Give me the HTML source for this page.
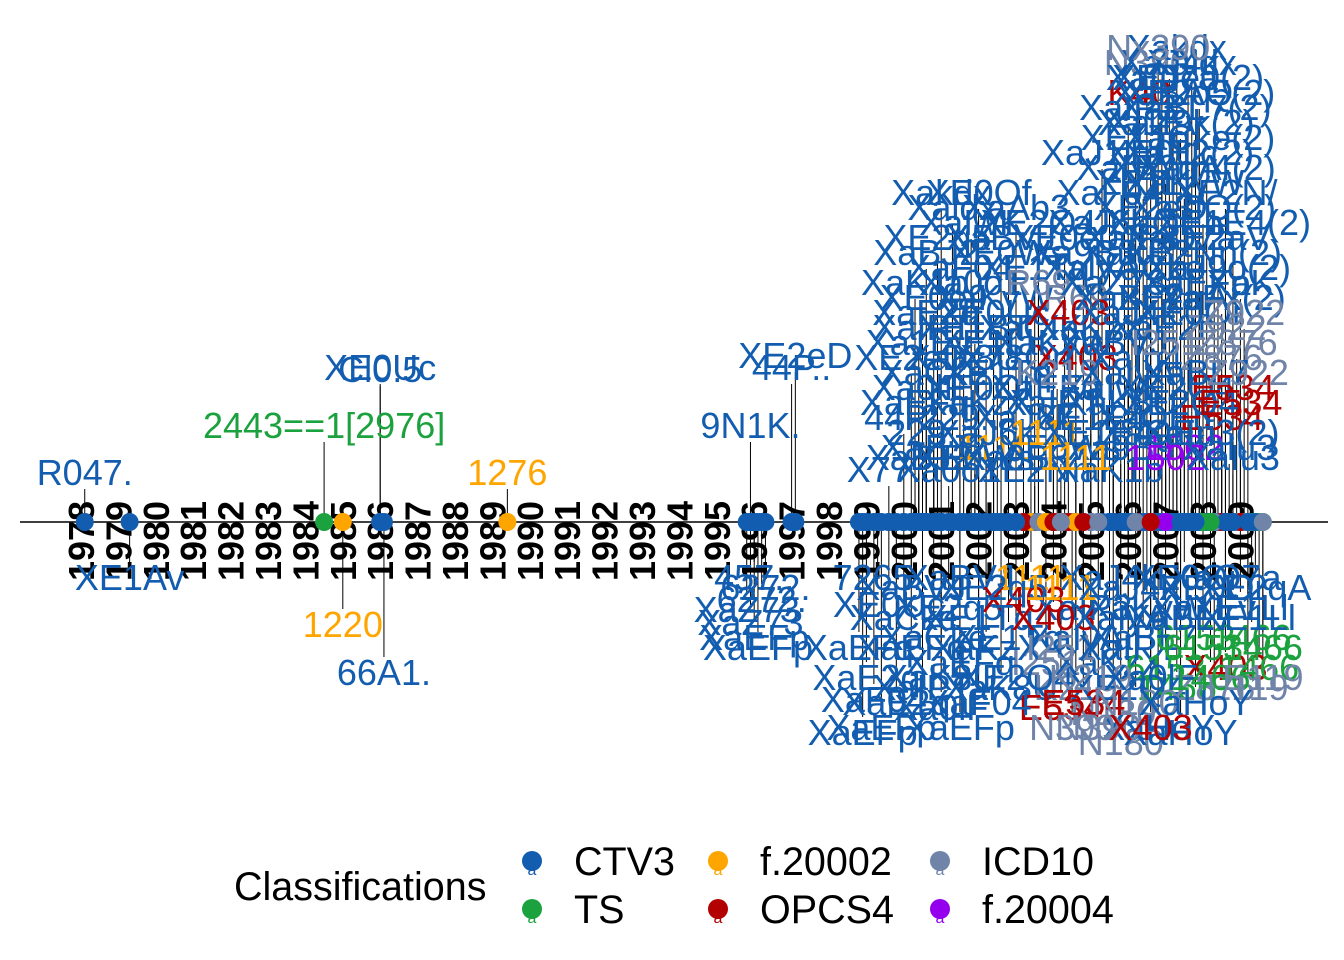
<!DOCTYPE html>
<html><head><meta charset="utf-8"><style>
html,body{margin:0;padding:0;background:#fff;}
svg{display:block;font-family:"Liberation Sans",sans-serif;}
</style></head><body>
<svg id="chart" width="1344" height="960" viewBox="0 0 1344 960" xmlns="http://www.w3.org/2000/svg">
<g id="leaders"></g>
<line x1="20" y1="522" x2="1328" y2="522" stroke="#000" stroke-width="1.6"/>
<g id="years"></g>
<g id="dots"></g>
<g id="labels"></g>
<g id="legend">
<text x="234" y="900" font-size="39.5">Classifications</text>
</g>
</svg>
<script>
const classNames = ['CTV3','TS','f.20002','OPCS4','ICD10','f.20004'];
const classColors = ['#135DB0','#1BA23E','#FFA500','#B30000','#6F84A8','#9400EE'];
const yearTicks = [];
for (let y = 1978; y <= 2009; y++) yearTicks.push(y);

// event dates (decimal years)
const dates = [
1978.1,1984.5,1986.0,1986.0,1989.4,1995.9,1997.1,1997.0,
2006.5,2007.1,2007.7, 2006.3,2007.2,2007.9, 2006.6,2007.4, 2005.3,2006.9,2007.6, 2006.4,2007.5,
2001.3,2003.0,2006.6,2008.0, 2000.9,2002.6,2004.3,2006.1,2007.4,2008.3, 2001.5,2003.5,2005.0,2006.6,2008.4,
2000.8,2002.4,2004.6,2006.0,2007.2,2008.5, 2000.5,2001.9,2003.4,2005.0,2006.8,2008.6,
2000.2,2001.6,2003.0,2004.6,2006.2,2008.5, 2000.4,2002.0,2003.8,2005.6,2007.3,2008.8,
2000.0,2001.5,2003.2,2005.0,2006.7,2008.5, 2000.8,2002.4,2004.2,2005.8,2007.5,2008.7, 1999.6,2001.2,2003.5,2005.5,
1979.3,1985.0,1986.1, 1996.0,1995.9,1996.1,1996.2, 1999.3,1999.6,1998.8,1999.0,1999.2,1998.9,
2001.5,2003.4,2005.5,2007.5,2008.6, 2001.2,2003.2,2004.8,2006.5,2008.0,2009.0,
2000.8,2002.8,2004.6,2006.4,2007.8,2009.3, 2001.5,2003.8,2005.5,2007.0,2008.6,2009.5,
2000.5,2002.6,2004.6,2006.0,2007.3,2009.2, 2001.0,2004.2,2005.6,2006.8,2008.3, 2004.5,2005.8,2007.4,
2007.3,2006.8, 2006.9,2007.6, 2006.0,2007.8, 2006.2,2007.9, 2005.9,2007.0,2008.1,
2001.0,2002.0,2005.5,2008.6, 2001.8,2003.6,2005.2,2007.0,2008.8, 2000.6,2002.8,2004.8,2006.0,2008.0,
2000.3,2001.8,2003.6,2005.6,2007.8,2009.0, 2000.6,2002.4,2004.4,2006.0,2007.6,2009.1,
2000.4,2002.2,2004.0,2005.6,2007.0,2008.9, 2000.8,2002.5,2004.1,2006.0,2007.8,2009.2,
2000.3,2002.0,2004.0,2005.8,2007.4,2009.0, 2000.6,2002.2,2003.8,2005.2,2006.8,2008.2,
2000.4,2001.9,2003.0,2004.6,2007.0,2008.8,
2000.2,2002.4,2004.2,2006.0,2008.2,2009.4, 2000.0,2002.0,2004.0,2005.8,2007.4,2009.2,
2000.2,2002.2,2004.2,2006.0,2008.0,2009.6, 2001.0,2003.0,2005.0,2006.6,2008.2,2009.6,
1999.8,2002.0,2004.8,2006.2,2007.8, 1999.4,2001.5,2005.2,2006.6,
1995.8,1996.3,1996.0
];
// classification index per event
const classIdx = [
0,1,0,0,2,0,0,0,
4,0,0, 3,0,0, 0,0, 0,0,0, 0,0,
0,0,0,0, 0,0,0,0,0,0, 0,0,0,0,0,
0,0,4,0,0,0, 0,0,0,0,0,4,
0,0,0,3,0,4, 0,0,0,0,0,3,
0,0,0,0,0,3, 0,2,0,0,5,0, 0,0,0,0,
0,2,0, 0,0,0,0, 0,0,0,0,0,0,
0,2,0,0,0, 0,3,0,0,0,0,
0,0,0,0,1,1, 0,4,0,1,3,1,
0,0,4,0,1,4, 0,3,4,0,4, 4,4,0,
0,4, 0,0, 0,0, 0,0, 0,0,0,
0,0,0,0, 0,0,0,0,0, 0,0,0,0,0,
0,0,4,0,0,0, 0,0,3,0,0,4,
0,0,0,0,4,4, 0,0,4,0,0,4,
0,0,0,0,0,3, 0,0,2,0,0,0,
0,0,0,2,5,0,
0,0,2,0,0,0, 0,0,3,0,0,0,
0,0,4,0,1,1, 0,0,4,0,1,4,
0,0,3,4,0, 0,0,4,3,
0,0,0
];
const codes = [
'R047.','2443==1[2976]','XE0Uc','Cl0.5','1276','9N1K.','XE2eD','44P..',
'N390','XaJ4k','Xaldx', 'K40','XaBAQ','XE2q5(2)', 'Xa1Ev','XaZ9k(2)', 'XaJ1Ln','XE0Uc','XaE2(2)', 'XE1Ll','XaKyW',
'Xaldx','XaAb3','XE2eD','Xa3fQ(2)', 'XE2q5','XaBVJ','XE0e0','XaIP3','XaQ7a','XE2aV', 'XaF04','XE1Tq','XaIyA','XaCke','XaJ9o(2)',
'XE0e9','XaKyW','R69','XaBL7','XE2qA','XaFx(2)', 'XaIPT','XE1BT','XaCIK','XaKzX','XaE2f','Z922',
'XE2eD','XaK8U','X78Qn','X403','XaIn4','Z876', 'Xa0lF','XE0Of','XaEFq','XaIwK','XE2Q4','E534',
'44P..','229..','XaJ6k','XE1E4','XaQEn','E534', 'XaBJ2','1111','XE0Ws','Xa9B3','1502','XaIu3', 'X77..','Xa0o1','XE2Nn','XaK1b',
'XE1Av','1220','66A1.', '457..','XaZ73','XaEFp','6272.', '7265.','XE0Uc','XaEFq','XaE2q','XaF04','XaEFp',
'XaBVJ','1111','XaJ4k','XE0Oi','XaQ7a', 'XE2q5','X403','XaIP3','XaKyW','Xa1Ev','XE1Ll',
'XaCke','XE1Tq','XaIyA','XaBL7','6153','1466', 'XaEFq','I251','XaKzX','6153','X403','1466',
'XaIPT','XaK8U','K219','XE2Q4','1466','E119', 'Xa0lF','E534','N180','XaHoY','Z876', 'N390','N180','XaHoY',
'Xakdx','Nx390', 'XaQ7a','XE0e0(2)', 'XaIP3','XaBL7(2)', 'XE1Tq','XaCke(2)', 'XaIyA','XE2qA','XaIn4(2)',
'Xakdx','XE0Of','XaF04','XE2N/', 'XaIwK','XE2Q4','XaJ6k','XaQEn','XE1E4(2)', 'XaBJ2','XE0Ws','Xa9B3','XaIu3','XE2Nn(2)',
'XaK1b','Xa0o1','R69','XaZ73','XaEFp','XaK', 'XaE2q','XE0Uc','X403','XaJ4k','XE0Oi','Z922',
'Xa1Ev','XE1Ll','XaKyW','XaBVJ','I251','Z876', 'XaCke','XE1Tq','K219','XaIyA','XaBL7','Z922',
'XaEFq','XaKzX','XaIPT','XaK8U','XE2Q4','E534', '229..','XaJ6k','1111','XE1E4','XaQEn','XaIu3(2)',
'XaBJ2','XE0Ws','Xa9B3','1111','1502','XaIu3',
'XaBVJ','XE2q5','1111','XaJ4k','XE0Oi','XE2qA', 'XaCke','XE1Tq','X403','XaIyA','XaBL7','XE1Ll',
'XaEFq','XaKzX','I251','XaIPT','6153','1466', 'XaK8U','XE2Q4','K219','Xa0lF','1466','E119',
'XaE2q','XaF04','E534','N180','XaHoY', 'XaEFp','XaEFp','N390','X403',
'XaZ73','6272.','XaEFp'
];
// layout: label baseline y for each event (not data)
const labelBaselines = [
485,438,380,382,485,438,368,380,
75,75,75, 105,105,105, 135,135, 165,165,165, 195,195,
220,220,220,220, 250,250,250,250,250,250, 280,280,280,280,280,
310,310,310,310,310,310, 340,340,340,340,340,340,
370,370,370,370,370,370, 400,400,400,400,400,400,
430,430,430,430,430,430, 460,460,460,460,460,460, 482,482,482,482,
590,637,685, 590,635,660,612, 590,617,660,690,712,745,
590,590,590,590,590, 620,612,620,620,620,620,
650,650,650,650,650,650, 675,675,675,680,680,680,
700,700,700,700,700,700, 720,720,725,740,700, 740,755,745,
60,60, 90,90, 120,120, 150,150, 180,180,180,
205,205,205,205, 235,235,235,235,235, 265,265,265,265,265,
295,295,295,295,295,295, 325,325,325,325,325,325,
355,355,355,355,355,355, 385,385,385,385,385,385,
415,415,415,415,415,415, 445,445,445,445,445,445,
470,470,470,470,470,470,
600,600,600,600,600,600, 630,630,630,630,630,630,
660,660,660,660,660,660, 690,690,690,690,690,690,
715,715,715,715,715, 740,740,740,740,
622,600,650
];

const NS = 'http://www.w3.org/2000/svg';
function xScale(yr){ return 81 + (yr - 1978) * 37.4; }
const AXIS_Y = 522;

const yearsG = document.getElementById('years');
yearTicks.forEach(y => {
  const t = document.createElementNS(NS,'text');
  
  
  const x = xScale(y);
  t.setAttribute('x', 0); t.setAttribute('y', 0);
  t.setAttribute('transform', `translate(${x + 13},541) rotate(-90)`);
  t.setAttribute('text-anchor','middle');
  t.setAttribute('font-size','36'); t.setAttribute('font-weight','bold');
  t.textContent = y;
  yearsG.appendChild(t);
});

const leadG = document.getElementById('leaders');
const dotG = document.getElementById('dots');
const labG = document.getElementById('labels');
dates.forEach((d, i) => {
  const x = xScale(d);
  const by = labelBaselines[i];
  const col = classColors[classIdx[i]];
  const above = by < AXIS_Y;
  const ln = document.createElementNS(NS,'line');
  
  
  ln.setAttribute('x1', x); ln.setAttribute('x2', x);
  ln.setAttribute('y1', AXIS_Y); ln.setAttribute('y2', above ? by + 4 : by - 28);
  ln.setAttribute('stroke', '#000'); ln.setAttribute('stroke-width', '1');
  leadG.appendChild(ln);
  const c = document.createElementNS(NS,'circle');
  
  
  c.setAttribute('cx', x); c.setAttribute('cy', AXIS_Y); c.setAttribute('r', 9);
  c.setAttribute('fill', col);
  dotG.appendChild(c);
  const t = document.createElementNS(NS,'text');
  
  
  t.setAttribute('x', x); t.setAttribute('y', by);
  t.setAttribute('text-anchor', 'middle');
  t.setAttribute('font-size', '36');
  t.setAttribute('fill', col);
  t.textContent = codes[i];
  labG.appendChild(t);
});

const legendCols = [532, 718, 940];
const legG = document.getElementById('legend');
classNames.forEach((nm, i) => {
  const cx = legendCols[Math.floor(i / 2)];
  const cy = i % 2 === 0 ? 861 : 909;
  const c = document.createElementNS(NS,'circle');
  
  
  c.setAttribute('cx', cx); c.setAttribute('cy', cy); c.setAttribute('r', 10);
  c.setAttribute('fill', classColors[i]);
  legG.appendChild(c);
  const a = document.createElementNS(NS,'text');
  
  
  a.setAttribute('x', cx); a.setAttribute('y', cy + 14);
  a.setAttribute('text-anchor','middle'); a.setAttribute('font-size','16');
  a.setAttribute('fill', classColors[i]);
  a.textContent = 'a';
  legG.appendChild(a);
  const t = document.createElementNS(NS,'text');
  
  
  t.setAttribute('x', cx + 42); t.setAttribute('y', cy + 14);
  t.setAttribute('font-size', '39.5');
  t.textContent = nm;
  legG.appendChild(t);
});
</script>
</body></html>
